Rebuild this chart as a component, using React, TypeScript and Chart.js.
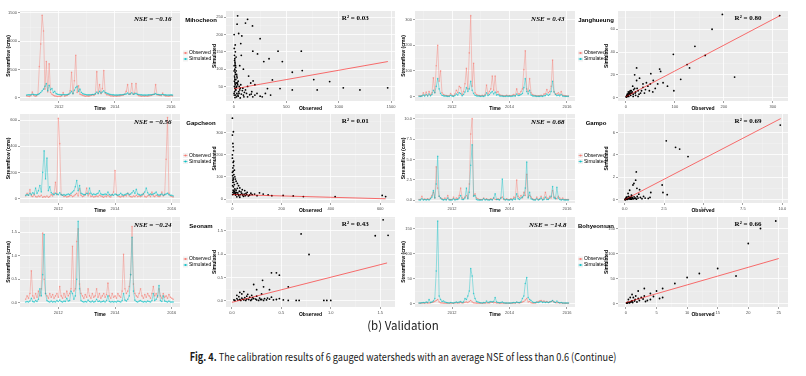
import React, { useEffect, useRef } from 'react';
import { Chart, registerables } from 'chart.js';

Chart.register(...registerables);

const OBS_RGB = '248,118,109';
const SIM_RGB = '0,191,196';
const SANS = '"Liberation Sans", Arial, sans-serif';
const SERIF = '"Liberation Serif", "DejaVu Serif", serif';

// ---------- shared time axis (decimal years) ----------
const sampleYears = [
  2010.85, 2010.9, 2010.95, 2011, 2011.05, 2011.1, 2011.15, 2011.2, 2011.25, 2011.3,
  2011.35, 2011.4, 2011.45, 2011.5, 2011.55, 2011.6, 2011.65, 2011.7, 2011.75, 2011.8,
  2011.85, 2011.9, 2011.95, 2012, 2012.05, 2012.1, 2012.15, 2012.2, 2012.25, 2012.3,
  2012.35, 2012.4, 2012.45, 2012.5, 2012.55, 2012.6, 2012.65, 2012.7, 2012.75, 2012.8,
  2012.85, 2012.9, 2012.95, 2013, 2013.05, 2013.1, 2013.15, 2013.2, 2013.25, 2013.3,
  2013.35, 2013.4, 2013.45, 2013.5, 2013.55, 2013.6, 2013.65, 2013.7, 2013.75, 2013.8,
  2013.85, 2013.9, 2013.95, 2014, 2014.05, 2014.1, 2014.15, 2014.2, 2014.25, 2014.3,
  2014.35, 2014.4, 2014.45, 2014.5, 2014.55, 2014.6, 2014.65, 2014.7, 2014.75, 2014.8,
  2014.85, 2014.9, 2014.95, 2015, 2015.05, 2015.1, 2015.15, 2015.2, 2015.25, 2015.3,
  2015.35, 2015.4, 2015.45, 2015.5, 2015.55, 2015.6, 2015.65, 2015.7, 2015.75, 2015.8,
  2015.85, 2015.9, 2015.95, 2016, 2016.05,
];
const yearTicks = [2012, 2014, 2016];
const yearMinorTicks = [2011, 2013, 2015];
const yearLabels = ['2012', '2014', '2016'];
const legendLabels = ['Observed', 'Simulated'];

// ---------- Mihocheon ----------
const mihoObs = [
  30, 25, 20, 35, 100, 40, 25, 30, 60, 550,
  950, 1460, 1180, 150, 640, 100, 600, 90, 60, 40,
  30, 25, 20, 25, 20, 30, 90, 25, 35, 40,
  60, 120, 450, 70, 300, 750, 90, 210, 60, 50,
  40, 30, 25, 30, 25, 30, 40, 50, 40, 60,
  460, 80, 230, 70, 160, 480, 80, 50, 50, 40,
  30, 30, 25, 30, 25, 30, 30, 35, 40, 45,
  60, 110, 230, 60, 70, 250, 60, 80, 250, 50,
  35, 30, 25, 30, 25, 30, 25, 30, 35, 40,
  50, 60, 230, 50, 45, 40, 35, 80, 40, 30,
  30, 25, 30, 35, 30,
];
const mihoSim = [
  45, 50, 48, 50, 60, 55, 50, 48, 55, 70,
  90, 120, 150, 200, 250, 120, 220, 140, 160, 90,
  110, 70, 60, 55, 50, 48, 55, 50, 50, 55,
  60, 80, 110, 70, 130, 180, 200, 110, 150, 90,
  70, 60, 55, 50, 48, 50, 52, 55, 55, 70,
  100, 70, 110, 80, 100, 120, 90, 80, 70, 60,
  55, 50, 48, 45, 45, 45, 48, 50, 50, 55,
  60, 65, 80, 60, 65, 85, 60, 65, 75, 60,
  55, 50, 48, 45, 45, 45, 45, 48, 50, 50,
  55, 60, 70, 55, 55, 50, 50, 55, 50, 48,
  45, 45, 45, 48, 45,
];
const mihoFlowTicks = [0, 500, 1000, 1500];
const mihoFlowMinor = [250, 750, 1250];
const mihoFlowLabels = ['0', '500', '1000', '1500'];
const mihoScatter = [
  [35, 254], [130, 244], [30, 230], [110, 233], [177, 225], [45, 203], [75, 196], [250, 188],
  [65, 174], [180, 152], [421, 152], [643, 152], [225, 144], [335, 130], [462, 122], [285, 122],
  [557, 91], [652, 96], [762, 70], [914, 64], [1044, 46], [1203, 40], [1468, 46], [557, 40],
  [795, 40], [440, 44], [367, 69], [183, 66], [320, 44], [165, 28],
  [5, 140], [10, 120], [15, 110], [8, 100], [20, 95], [12, 90], [25, 85], [5, 80], [30, 75],
  [18, 70], [40, 65], [10, 60], [35, 55], [50, 50], [22, 48], [60, 45], [15, 40], [80, 38],
  [45, 35], [100, 33], [28, 30], [120, 30], [70, 28], [150, 26], [90, 25], [200, 25], [40, 22],
  [130, 20], [10, 18], [60, 17], [250, 22], [300, 30], [8, 130], [3, 160], [12, 170], [2, 200],
  [55, 110], [70, 140], [90, 100], [140, 80], [160, 60], [200, 55],
  [3, 25], [6, 35], [9, 45], [12, 55], [4, 65], [7, 75], [14, 85], [2, 95], [16, 105], [11, 115],
  [6, 125], [20, 135], [1, 30], [18, 40], [26, 50], [33, 60], [24, 20], [38, 25], [48, 30],
  [55, 40], [65, 55], [85, 45], [95, 20], [110, 40], [130, 50], [170, 35], [180, 20], [220, 30],
  [270, 20], [350, 25], [4, 50], [9, 70], [2, 110], [13, 150], [22, 60], [28, 80], [17, 25],
];
const mihoFit = [[0, 43], [1470, 122]];
const mihoObsTicks = [0, 500, 1000, 1500];
const mihoObsMinor = [250, 750, 1250];
const mihoObsLabels = ['0', '500', '1000', '1500'];
const mihoSimTicks = [50, 100, 150, 200, 250];
const mihoSimMinor = [25, 75, 125, 175, 225];
const mihoSimLabels = ['50', '100', '150', '200', '250'];

// ---------- Janghueung ----------
const jangObs = [
  3, 2, 3, 15, 5, 18, 4, 20, 6, 15,
  73, 15, 120, 200, 60, 100, 15, 8, 5, 4,
  3, 3, 12, 5, 3, 10, 25, 15, 40, 35,
  8, 20, 50, 110, 30, 170, 315, 40, 130, 15,
  8, 5, 4, 3, 5, 3, 8, 45, 10, 20,
  30, 80, 25, 80, 15, 20, 8, 5, 4, 3,
  3, 5, 3, 4, 3, 5, 8, 4, 30, 10,
  10, 20, 30, 105, 178, 30, 20, 70, 15, 8,
  5, 4, 3, 3, 3, 5, 3, 10, 10, 28,
  15, 20, 40, 142, 20, 10, 10, 15, 8, 20,
  5, 4, 3, 2, 2,
];
const jangSim = [
  1, 1, 2, 6, 2, 8, 2, 10, 3, 8,
  25, 15, 40, 70, 30, 12, 5, 3, 2, 2,
  1, 1, 5, 2, 1, 4, 10, 6, 15, 12,
  3, 8, 18, 35, 20, 30, 60, 25, 12, 5,
  3, 2, 2, 1, 2, 1, 3, 15, 4, 8,
  15, 20, 10, 18, 6, 8, 3, 2, 2, 1,
  1, 2, 1, 2, 1, 2, 3, 2, 10, 4,
  5, 8, 12, 35, 70, 20, 10, 25, 6, 3,
  2, 2, 1, 1, 1, 2, 1, 3, 4, 10,
  5, 8, 20, 60, 18, 8, 4, 6, 3, 8,
  2, 1, 1, 1, 1,
];
const jangFlowTicks = [0, 100, 200, 300];
const jangFlowMinor = [50, 150, 250];
const jangFlowLabels = ['0', '100', '200', '300'];
const jangScatter = [
  [197, 73], [314, 72], [176, 60], [141, 45], [97, 38], [162, 37], [222, 18], [125, 29],
  [130, 26], [112, 16], [98, 6], [69, 25], [71, 23], [51, 21], [22, 26], [56, 15], [76, 13],
  [35, 12], [28, 17], [18, 20], [22, 15],
  [2, 1], [4, 2], [6, 1], [8, 3], [10, 2], [12, 4], [15, 3], [5, 5], [3, 3], [20, 5], [25, 6],
  [18, 8], [30, 4], [40, 7], [45, 10], [60, 8], [14, 10], [9, 6], [1, 0.5], [7, 4], [50, 12],
  [85, 10], [35, 9],
  [1, 1], [2, 2], [3, 1], [4, 3], [5, 2], [6, 4], [7, 3], [8, 5], [10, 4], [11, 6], [13, 5],
  [16, 7], [19, 4], [23, 8], [27, 3], [32, 6], [38, 4], [42, 13], [48, 6], [55, 5], [65, 12],
  [15, 1], [20, 2], [25, 1],
];
const jangFit = [[0, 0.7], [315, 72]];
const jangObsTicks = [0, 100, 200, 300];
const jangObsMinor = [50, 150, 250];
const jangObsLabels = ['0', '100', '200', '300'];
const jangSimTicks = [0, 20, 40, 60];
const jangSimMinor = [10, 30, 50, 70];
const jangSimLabels = ['0', '20', '40', '60'];

// ---------- Gapcheon ----------
const gapObs = [
  20, 40, 25, 68, 20, 15, 30, 15, 12, 20,
  15, 25, 10, 15, 12, 20, 10, 15, 30, 20,
  40, 125, 30, 615, 420, 30, 25, 15, 20, 12,
  15, 20, 25, 15, 20, 30, 40, 20, 75, 25,
  15, 20, 30, 80, 20, 40, 15, 20, 12, 15,
  20, 15, 25, 20, 15, 10, 20, 15, 25, 15,
  12, 30, 50, 215, 30, 20, 15, 12, 20, 15,
  25, 20, 40, 20, 15, 12, 20, 15, 25, 15,
  20, 15, 20, 40, 15, 12, 20, 25, 15, 50,
  20, 15, 25, 20, 15, 20, 50, 20, 30, 300,
  620, 40, 20, 15, 12,
];
const gapSim = [
  25, 30, 25, 40, 30, 45, 35, 80, 40, 60,
  100, 50, 200, 365, 150, 310, 60, 90, 45, 35,
  30, 40, 35, 30, 45, 30, 25, 30, 25, 30,
  35, 30, 40, 50, 60, 90, 138, 60, 100, 40,
  35, 30, 30, 40, 35, 80, 40, 30, 35, 30,
  35, 40, 60, 35, 30, 30, 35, 30, 50, 30,
  25, 30, 25, 35, 30, 25, 30, 40, 30, 25,
  30, 35, 40, 30, 35, 45, 60, 40, 70, 35,
  30, 25, 30, 35, 50, 80, 45, 30, 35, 30,
  35, 40, 50, 30, 25, 30, 35, 25, 30, 35,
  40, 30, 25, 25, 20,
];
const gapFlowTicks = [0, 200, 400, 600];
const gapFlowMinor = [100, 300, 500];
const gapFlowLabels = ['0', '200', '400', '600'];
const gapScatter = [
  [0, 364], [4, 303], [0, 288], [4, 218], [0, 199], [0, 184], [3, 165], [5, 150], [2, 140],
  [8, 130], [0, 120], [6, 110], [10, 100], [3, 95], [12, 90], [2, 85], [15, 80], [5, 75],
  [20, 70], [8, 65], [25, 60], [4, 55], [30, 50], [20, 48], [10, 45], [40, 42], [15, 40],
  [50, 38], [6, 35], [35, 32], [60, 30], [12, 28], [55, 25], [90, 22], [125, 22], [145, 19],
  [206, 16], [247, 14], [288, 11], [417, 11], [608, 16], [622, 11], [25, 20], [70, 18],
  [100, 15], [45, 12], [18, 10], [30, 8], [80, 20], [160, 15], [110, 28], [75, 26],
  [1, 20], [2, 30], [3, 40], [5, 22], [7, 28], [9, 35], [11, 25], [13, 18], [16, 30], [19, 22],
  [22, 28], [26, 15], [28, 35], [33, 20], [38, 25], [42, 18], [48, 22], [52, 15], [58, 20],
  [65, 14], [1, 60], [2, 75], [4, 90], [1, 105], [3, 125], [5, 170], [2, 250], [3, 235],
];
const gapFit = [[0, 20], [622, 1]];
const gapObsTicks = [0, 200, 400, 600];
const gapObsMinor = [100, 300, 500];
const gapObsLabels = ['0', '200', '400', '600'];
const gapSimTicks = [0, 100, 200, 300];
const gapSimMinor = [50, 150, 250, 350];
const gapSimLabels = ['0', '100', '200', '300'];

// ---------- Gampo ----------
const gampObs = [
  0.1, 0.1, 0.5, 0.1, 0.15, 0.1, 0.2, 0.1, 0.3, 0.6,
  1.0, 0.3, 4.1, 1.5, 0.5, 0.3, 0.2, 0.1, 0.3, 0.1,
  0.6, 0.1, 0.1, 0.1, 0.4, 0.1, 0.3, 0.2, 0.6, 1.5,
  0.3, 0.2, 0.4, 0.6, 0.3, 2.0, 8.1, 10.0, 0.6, 0.8,
  0.3, 0.2, 0.1, 0.1, 0.1, 0.3, 0.1, 0.2, 0.1, 0.1,
  0.2, 0.1, 0.3, 0.1, 0.1, 0.2, 0.1, 0.3, 0.4, 0.1,
  0.1, 0.2, 0.1, 0.1, 0.2, 0.1, 0.4, 0.3, 2.5, 0.5,
  0.3, 0.6, 0.3, 1.0, 0.6, 3.2, 0.4, 0.6, 0.4, 0.2,
  0.1, 0.1, 0.4, 0.1, 0.2, 0.5, 0.1, 0.3, 1.0, 0.3,
  0.2, 0.5, 0.3, 1.2, 0.4, 0.3, 0.2, 0.5, 0.3, 0.1,
  0.3, 0.1, 0.1, 0.1, 0.1,
];
const gampSim = [
  0.05, 0.05, 0.2, 0.05, 0.1, 0.05, 0.1, 0.05, 0.2, 0.4,
  1.2, 0.3, 2.0, 5.4, 0.5, 0.3, 0.1, 0.05, 0.1, 0.05,
  0.3, 0.05, 0.05, 0.05, 0.2, 0.05, 0.1, 0.1, 0.3, 0.6,
  0.1, 0.1, 0.3, 1.5, 0.2, 1.0, 4.3, 6.8, 0.5, 0.6,
  0.1, 0.05, 0.05, 0.05, 0.05, 0.2, 0.05, 0.1, 0.05, 0.05,
  0.1, 0.05, 0.3, 0.8, 0.1, 0.1, 0.05, 0.3, 2.6, 0.2,
  0.05, 0.1, 0.05, 0.05, 0.1, 0.05, 0.2, 0.1, 0.8, 0.2,
  0.1, 0.3, 0.4, 0.6, 1.5, 4.7, 0.3, 1.0, 0.2, 0.1,
  0.05, 0.05, 0.2, 0.05, 0.1, 0.3, 0.05, 0.1, 0.4, 0.1,
  0.1, 0.3, 0.5, 1.7, 0.3, 0.2, 1.6, 0.3, 0.1, 0.05,
  0.1, 0.05, 0.05, 0.05, 0.05,
];
const gampFlowTicks = [0, 2.5, 5, 7.5, 10];
const gampFlowMinor = [1.25, 3.75, 6.25, 8.75];
const gampFlowLabels = ['0.0', '2.5', '5.0', '7.5', '10.0'];
const gampScatter = [
  [9.87, 6.67], [2.64, 5.26], [3.23, 4.68], [3.49, 4.53], [4.02, 3.86], [0.74, 2.49],
  [0.59, 1.46], [0.53, 1.32], [0.7, 1.75], [0.78, 1.02], [2.38, 1.32], [2.43, 0.65],
  [2.7, 0.45], [1.66, 0.65], [1.61, 0.21], [0.95, 0.9], [0.32, 0.85], [0.22, 0.56],
  [0.43, 0.42], [0.05, 0.02], [0.1, 0.05], [0.15, 0.1], [0.2, 0.08], [0.3, 0.15], [0.4, 0.2],
  [0.5, 0.1], [0.6, 0.25], [0.25, 0.3], [0.35, 0.05], [0.7, 0.15], [0.8, 0.3], [0.1, 0.2],
  [0.45, 0.35], [1.0, 0.2], [1.2, 0.3], [0.9, 0.5], [0.05, 0.1], [0.15, 0.25],
  [0.02, 0.01], [0.08, 0.03], [0.12, 0.06], [0.18, 0.04], [0.22, 0.12], [0.28, 0.08],
  [0.33, 0.2], [0.38, 0.1], [0.42, 0.05], [0.48, 0.18], [0.55, 0.08], [0.65, 0.12],
  [0.75, 0.05], [0.85, 0.15], [1.1, 0.1], [1.3, 0.15], [1.5, 0.12],
];
const gampFit = [[0, 0], [9.9, 7.25]];
const gampObsTicks = [0, 2.5, 5, 7.5, 10];
const gampObsMinor = [1.25, 3.75, 6.25, 8.75];
const gampObsLabels = ['0.0', '2.5', '5.0', '7.5', '10.0'];
const gampSimTicks = [0, 2, 4, 6];
const gampSimMinor = [1, 3, 5, 7];
const gampSimLabels = ['0', '2', '4', '6'];

// ---------- Seonam ----------
const seoObs = [
  0.08, 0.15, 0.1, 0.2, 0.68, 0.15, 0.1, 0.2, 0.12, 0.25,
  0.15, 0.3, 1.48, 0.5, 0.2, 0.15, 0.1, 0.2, 0.12, 0.18,
  0.1, 0.15, 0.2, 0.12, 0.35, 0.15, 0.1, 0.2, 0.12, 0.25,
  0.15, 0.2, 0.3, 1.2, 0.25, 0.3, 1.3, 1.57, 0.4, 0.2,
  0.15, 0.1, 0.18, 0.12, 0.3, 0.15, 0.1, 0.2, 0.12, 0.15,
  0.3, 0.12, 0.2, 0.1, 0.15, 0.2, 0.12, 0.18, 0.42, 0.15,
  0.1, 0.2, 0.12, 0.15, 0.1, 0.2, 0.15, 0.12, 0.25, 1.03,
  0.3, 0.2, 0.25, 0.35, 0.6, 1.62, 0.4, 0.2, 0.15, 0.12,
  0.2, 0.3, 0.15, 0.1, 0.18, 0.12, 0.2, 0.15, 0.1, 0.2,
  0.35, 0.15, 0.2, 0.12, 0.3, 0.15, 0.1, 0.2, 0.12, 0.15,
  0.1, 0.18, 0.12, 0.1, 0.08,
];
const seoSim = [
  0.02, 0.03, 0.02, 0.04, 0.1, 0.03, 0.02, 0.05, 0.03, 0.08,
  0.3, 0.15, 0.6, 1.45, 0.2, 0.05, 0.03, 0.02, 0.04, 0.02,
  0.03, 0.02, 0.05, 0.03, 0.06, 0.03, 0.02, 0.04, 0.03, 0.1,
  0.04, 0.05, 0.25, 0.2, 0.08, 0.15, 0.5, 1.73, 0.3, 0.05,
  0.03, 0.02, 0.03, 0.02, 0.06, 0.03, 0.02, 0.04, 0.02, 0.03,
  0.08, 0.03, 0.04, 0.02, 0.03, 0.04, 0.02, 0.05, 0.15, 0.03,
  0.02, 0.03, 0.02, 0.03, 0.02, 0.04, 0.03, 0.02, 0.05, 0.2,
  0.06, 0.04, 0.08, 0.15, 0.6, 1.39, 0.25, 0.06, 0.03, 0.02,
  0.04, 0.05, 0.03, 0.02, 0.03, 0.02, 0.04, 0.03, 0.02, 0.05,
  0.2, 0.05, 0.08, 0.15, 0.37, 0.05, 0.03, 0.15, 0.04, 0.03,
  0.02, 0.04, 0.02, 0.02, 0.02,
];
const seoFlowTicks = [0, 0.5, 1, 1.5];
const seoFlowMinor = [0.25, 0.75, 1.25, 1.75];
const seoFlowLabels = ['0.0', '0.5', '1.0', '1.5'];
const seoScatter = [
  [1.53, 1.73], [1.45, 1.39], [1.58, 1.4], [0.7, 1.43], [0.78, 0.99], [0.4, 0.6], [0.45, 0.6],
  [0.48, 0.55], [0.31, 0.44], [0.57, 0.3], [0.38, 0.24], [0.32, 0.3], [0.22, 0.35], [0.25, 0.24],
  [0.57, 0.01], [0.65, 0.01], [0.68, 0.01], [0.93, 0.01], [0.96, 0.01], [1.0, 0.01],
  [0.02, 0.02], [0.05, 0.05], [0.08, 0.03], [0.1, 0.06], [0.12, 0.02], [0.15, 0.04], [0.18, 0.08],
  [0.2, 0.03], [0.22, 0.05], [0.25, 0.02], [0.28, 0.06], [0.3, 0.03], [0.33, 0.05], [0.35, 0.02],
  [0.38, 0.04], [0.4, 0.08], [0.05, 0.12], [0.1, 0.15], [0.15, 0.1], [0.2, 0.12], [0.12, 0.2],
  [0.08, 0.18], [0.45, 0.03], [0.3, 0.15], [0.25, 0.1],
  [0.03, 0.01], [0.06, 0.02], [0.09, 0.01], [0.11, 0.04], [0.14, 0.01], [0.17, 0.03],
  [0.19, 0.01], [0.21, 0.07], [0.24, 0.04], [0.27, 0.01], [0.29, 0.03], [0.32, 0.01],
  [0.36, 0.06], [0.42, 0.02], [0.48, 0.05], [0.52, 0.02], [0.16, 0.14], [0.07, 0.09], [0.13, 0.07],
];
const seoFit = [[0, -0.03], [1.57, 0.81]];
const seoObsTicks = [0, 0.5, 1, 1.5];
const seoObsMinor = [0.25, 0.75, 1.25];
const seoObsLabels = ['0.0', '0.5', '1.0', '1.5'];
const seoSimTicks = [0, 0.5, 1, 1.5];
const seoSimMinor = [0.25, 0.75, 1.25, 1.75];
const seoSimLabels = ['0.0', '0.5', '1.0', '1.5'];

// ---------- Bohyeonsan ----------
const bohObs = [
  0.5, 0.5, 0.8, 1, 0.6, 1.5, 0.8, 1, 1.5, 2,
  3, 4, 6, 8, 3, 1.5, 1, 0.8, 0.6, 0.5,
  0.5, 0.6, 0.8, 0.5, 0.6, 1, 1.5, 0.8, 1.2, 2,
  1, 1.5, 2.5, 3, 2, 4, 6, 3, 1.5, 1,
  0.8, 0.6, 0.5, 0.5, 0.6, 0.5, 0.8, 1.5, 1, 1.2,
  2, 3, 1.5, 2, 1, 1.2, 0.8, 0.6, 1, 0.5,
  0.5, 0.6, 0.5, 0.6, 0.5, 0.8, 1, 0.8, 2, 1.5,
  1.2, 2, 3, 4, 7, 10, 3, 4, 1.5, 1,
  0.8, 1, 2, 4, 5, 6, 4, 5, 3, 4,
  2, 3, 4, 5, 3, 2, 1.5, 2, 1, 1.5,
  0.8, 0.6, 0.5, 0.5, 0.5,
];
const bohSim = [
  1, 1, 1.5, 2, 1.5, 3, 2, 8, 2, 3,
  5, 10, 65, 165, 15, 8, 4, 5, 3, 2,
  1.5, 1, 2, 1.5, 1, 2, 3, 2, 3, 4,
  2, 3, 10, 8, 15, 25, 70, 55, 20, 10,
  4, 3, 2, 1.5, 1, 2, 1.5, 5, 2, 3,
  4, 3, 4, 12, 3, 2, 1.5, 2, 3, 1.5,
  1, 1, 1, 1, 1, 1.5, 2, 1.5, 3, 2,
  2, 3, 10, 15, 40, 52, 12, 8, 6, 3,
  2, 2, 3, 2, 3, 4, 2, 3, 2, 3,
  2, 3, 4, 6, 3, 2, 5, 2, 1.5, 2,
  1, 1, 1, 1, 1,
];
const bohFlowTicks = [0, 50, 100, 150];
const bohFlowMinor = [25, 75, 125];
const bohFlowLabels = ['0', '50', '100', '150'];
const bohScatter = [
  [24.5, 165], [22, 150], [20, 120], [15, 70], [12, 60], [10, 52], [8, 40], [6, 30], [5, 25],
  [4, 20], [3, 15], [2, 10], [1, 5], [0.5, 2], [1.5, 8], [2.5, 12], [3.5, 6], [0.2, 1],
  [0.8, 3], [1.2, 12], [2, 25], [3, 30], [18, 55], [6, 12], [4, 8],
  [0.1, 1], [0.3, 2], [0.6, 1.5], [0.9, 4], [1.1, 2], [1.4, 5], [1.8, 3], [2.2, 6], [0.4, 8],
  [0.7, 12], [1, 18], [1.6, 15], [2.8, 9], [3.2, 4], [4.5, 14], [5.5, 10],
];
const bohFit = [[0, 2], [25, 90]];
const bohObsTicks = [0, 5, 10, 15, 20, 25];
const bohObsMinor = [2.5, 7.5, 12.5, 17.5, 22.5];
const bohObsLabels = ['0', '5', '10', '15', '20', '25'];
const bohSimTicks = [0, 50, 100, 150];
const bohSimMinor = [25, 75, 125];
const bohSimLabels = ['0', '50', '100', '150'];

const stationNames = ['Mihocheon', 'Janghueung', 'Gapcheon', 'Gampo', 'Seonam', 'Bohyeonsan'];
const nseLabels = ['NSE = \u22120.16', 'NSE = 0.43', 'NSE = \u22120.56', 'NSE = 0.68', 'NSE = \u22120.24', 'NSE = \u221214.8'];
const r2Labels = ['R\u00B2 = 0.03', 'R\u00B2 = 0.80', 'R\u00B2 = 0.01', 'R\u00B2 = 0.69', 'R\u00B2 = 0.43', 'R\u00B2 = 0.66'];

// ---------- layout (pixel areas of the grey panels) ----------
const COLS = {
  leftTs: { l: 20, r: 180 },
  leftSc: { l: 226, r: 395 },
  rightTs: { l: 415, r: 575 },
  rightSc: { l: 618, r: 788 },
};
const ROWS = [{ t: 11, b: 101 }, { t: 114, b: 203 }, { t: 217, b: 307 }];

function ax(min, max, ticks, minor, labels, title) {
  return { min, max, ticks, minor, labels, title };
}

const panels = [
  {
    station: 0, col: 'left', row: 0, obs: mihoObs, sim: mihoSim,
    tsX: ax(2010.61, 2016.32, yearTicks, yearMinorTicks, yearLabels, 'Time'),
    tsY: ax(-60, 1535, mihoFlowTicks, mihoFlowMinor, mihoFlowLabels, 'Streamflow (cms)'),
    pts: mihoScatter, fit: mihoFit,
    scX: ax(-76, 1538, mihoObsTicks, mihoObsMinor, mihoObsLabels, 'Observed'),
    scY: ax(8, 268, mihoSimTicks, mihoSimMinor, mihoSimLabels, 'Simulated'),
  },
  {
    station: 1, col: 'right', row: 0, obs: jangObs, sim: jangSim,
    tsX: ax(2010.71, 2016.28, yearTicks, yearMinorTicks, yearLabels, 'Time'),
    tsY: ax(-17, 333, jangFlowTicks, jangFlowMinor, jangFlowLabels, 'Streamflow (cms)'),
    pts: jangScatter, fit: jangFit,
    scX: ax(-16, 331, jangObsTicks, jangObsMinor, jangObsLabels, 'Observed'),
    scY: ax(-3, 76, jangSimTicks, jangSimMinor, jangSimLabels, 'Simulated'),
  },
  {
    station: 2, col: 'left', row: 1, obs: gapObs, sim: gapSim,
    tsX: ax(2010.65, 2016.29, yearTicks, yearMinorTicks, yearLabels, 'Time'),
    tsY: ax(-34, 647, gapFlowTicks, gapFlowMinor, gapFlowLabels, 'Streamflow (cms)'),
    pts: gapScatter, fit: gapFit,
    scX: ax(-26, 660, gapObsTicks, gapObsMinor, gapObsLabels, 'Observed'),
    scY: ax(-18, 383, gapSimTicks, gapSimMinor, gapSimLabels, 'Simulated'),
  },
  {
    station: 3, col: 'right', row: 1, obs: gampObs, sim: gampSim,
    tsX: ax(2010.71, 2016.28, yearTicks, yearMinorTicks, yearLabels, 'Time'),
    tsY: ax(-0.32, 10.56, gampFlowTicks, gampFlowMinor, gampFlowLabels, 'Streamflow (cms)'),
    pts: gampScatter, fit: gampFit,
    scX: ax(-0.42, 10.36, gampObsTicks, gampObsMinor, gampObsLabels, 'Observed'),
    scY: ax(-0.29, 7.66, gampSimTicks, gampSimMinor, gampSimLabels, 'Simulated'),
  },
  {
    station: 4, col: 'left', row: 2, obs: seoObs, sim: seoSim,
    tsX: ax(2010.65, 2016.29, yearTicks, yearMinorTicks, yearLabels, 'Time'),
    tsY: ax(-0.085, 1.82, seoFlowTicks, seoFlowMinor, seoFlowLabels, 'Streamflow (cms)'),
    pts: seoScatter, fit: seoFit,
    scX: ax(-0.06, 1.65, seoObsTicks, seoObsMinor, seoObsLabels, 'Observed'),
    scY: ax(-0.13, 1.79, seoSimTicks, seoSimMinor, seoSimLabels, 'Simulated'),
  },
  {
    station: 5, col: 'right', row: 2, obs: bohObs, sim: bohSim,
    tsX: ax(2010.71, 2016.28, yearTicks, yearMinorTicks, yearLabels, 'Time'),
    tsY: ax(-7, 173, bohFlowTicks, bohFlowMinor, bohFlowLabels, 'Streamflow (cms)'),
    pts: bohScatter, fit: bohFit,
    scX: ax(-1.3, 26.5, bohObsTicks, bohObsMinor, bohObsLabels, 'Observed'),
    scY: ax(-7, 173, bohSimTicks, bohSimMinor, bohSimLabels, 'Simulated'),
  },
];

// ---------- chart helpers ----------
function mainScale(spec, dir, size) {
  return {
    type: 'linear',
    axis: dir,
    position: dir === 'x' ? 'bottom' : 'left',
    min: spec.min,
    max: spec.max,
    afterBuildTicks: (s) => { s.ticks = spec.ticks.map((v) => ({ value: v })); },
    afterFit: (s) => { if (dir === 'x') s.height = size; else s.width = size; },
    ticks: {
      font: { size: 4, family: SANS },
      color: '#4D4D4D',
      padding: 1,
      maxRotation: 0,
      minRotation: 0,
      autoSkip: false,
      callback: (v, i) => spec.labels[i],
    },
    grid: { color: '#FFFFFF', lineWidth: 0.8, drawTicks: true, tickLength: 2, tickColor: '#444444', tickWidth: 0.5 },
    border: { display: false },
    title: { display: true, text: spec.title, font: { size: 5, weight: 'bold', family: SANS }, color: '#000000', padding: 0 },
  };
}

function minorScale(spec, dir) {
  return {
    type: 'linear',
    axis: dir,
    position: dir === 'x' ? 'bottom' : 'left',
    min: spec.min,
    max: spec.max,
    afterBuildTicks: (s) => { s.ticks = spec.minor.map((v) => ({ value: v })); },
    afterFit: (s) => { if (dir === 'x') s.height = 0; else s.width = 0; },
    ticks: { display: false },
    grid: { color: 'rgba(255,255,255,0.6)', lineWidth: 0.4, drawTicks: false },
    border: { display: false },
    title: { display: false },
  };
}

const panelBg = {
  id: 'panelBg',
  beforeDraw(chart) {
    const { ctx, chartArea: a } = chart;
    ctx.save();
    ctx.fillStyle = '#EBEBEB';
    ctx.fillRect(a.left, a.top, a.right - a.left, a.bottom - a.top);
    ctx.restore();
  },
};

function tsOverlay(p) {
  return {
    id: 'tsOverlay',
    afterDraw(chart) {
      const { ctx, chartArea: a } = chart;
      const w = a.right - a.left;
      ctx.save();
      ctx.textBaseline = 'middle';
      ctx.fillStyle = '#000000';
      ctx.font = `italic bold 7px ${SERIF}`;
      ctx.textAlign = 'center';
      ctx.fillText(nseLabels[p.station], a.left + w * 0.83, a.top + 8);
      const cy = (a.top + a.bottom) / 2;
      const colors = [OBS_RGB, SIM_RGB];
      legendLabels.forEach((lab, k) => {
        const y = cy - 3 + k * 6;
        const kx = a.right + 3;
        ctx.fillStyle = '#F2F2F2';
        ctx.fillRect(kx, y - 2.5, 5, 5);
        ctx.strokeStyle = `rgba(${colors[k]},0.8)`;
        ctx.lineWidth = 0.7;
        ctx.beginPath();
        ctx.moveTo(kx + 0.5, y);
        ctx.lineTo(kx + 4.5, y);
        ctx.stroke();
        ctx.fillStyle = `rgba(${colors[k]},0.9)`;
        ctx.beginPath();
        ctx.arc(kx + 2.5, y, 1, 0, Math.PI * 2);
        ctx.fill();
        ctx.fillStyle = '#000000';
        ctx.font = `5px ${SANS}`;
        ctx.textAlign = 'left';
        ctx.fillText(lab, kx + 6, y);
      });
      ctx.font = `bold 6px ${SANS}`;
      ctx.textAlign = 'center';
      ctx.fillText(stationNames[p.station], a.right + 21, a.top + 9);
      ctx.restore();
    },
  };
}

function scOverlay(p) {
  return {
    id: 'scOverlay',
    afterDraw(chart) {
      const { ctx, chartArea: a } = chart;
      ctx.save();
      ctx.textBaseline = 'middle';
      ctx.textAlign = 'center';
      ctx.fillStyle = '#000000';
      ctx.font = `bold 7px ${SERIF}`;
      ctx.fillText(r2Labels[p.station], a.left + (a.right - a.left) * 0.765, a.top + 7);
      ctx.restore();
    },
  };
}

const TS_YW = 14, TS_XH = 11, TS_PADT = 10, TS_PADR = 55;
const SC_YW = 14, SC_XH = 11, SC_PADT = 10, SC_PADR = 8;

function tsGeometry(p) {
  const c = p.col === 'left' ? COLS.leftTs : COLS.rightTs;
  const r = ROWS[p.row];
  return {
    left: c.l - TS_YW,
    top: r.t - TS_PADT,
    width: TS_YW + (c.r - c.l) + TS_PADR,
    height: TS_PADT + (r.b - r.t) + TS_XH,
  };
}
function scGeometry(p) {
  const c = p.col === 'left' ? COLS.leftSc : COLS.rightSc;
  const r = ROWS[p.row];
  return {
    left: c.l - SC_YW,
    top: r.t - SC_PADT,
    width: SC_YW + (c.r - c.l) + SC_PADR,
    height: SC_PADT + (r.b - r.t) + SC_XH,
  };
}

function buildTs(p) {
  const series = (vals) => sampleYears.map((t, i) => ({ x: t, y: vals[i] }));
  return {
    type: 'line',
    data: {
      datasets: [
        {
          label: legendLabels[0],
          data: series(p.obs),
          borderColor: `rgba(${OBS_RGB},0.65)`,
          backgroundColor: `rgba(${OBS_RGB},0.6)`,
          borderWidth: 0.6,
          pointRadius: 0.8,
          pointBorderWidth: 0,
          tension: 0,
          order: 2,
        },
        {
          label: legendLabels[1],
          data: series(p.sim),
          borderColor: `rgba(${SIM_RGB},0.65)`,
          backgroundColor: `rgba(${SIM_RGB},0.6)`,
          borderWidth: 0.6,
          pointRadius: 0.8,
          pointBorderWidth: 0,
          tension: 0,
          order: 1,
        },
      ],
    },
    options: {
      responsive: false,
      animation: false,
      devicePixelRatio: 1,
      events: [],
      layout: { padding: { top: TS_PADT, right: TS_PADR, left: 0, bottom: 0 } },
      plugins: { legend: { display: false }, tooltip: { enabled: false }, title: { display: false } },
      scales: {
        x: mainScale(p.tsX, 'x', TS_XH),
        y: mainScale(p.tsY, 'y', TS_YW),
        xm: minorScale(p.tsX, 'x'),
        ym: minorScale(p.tsY, 'y'),
      },
    },
    plugins: [panelBg, tsOverlay(p)],
  };
}

function buildSc(p) {
  return {
    type: 'scatter',
    data: {
      datasets: [
        {
          type: 'line',
          label: 'Linear fit',
          data: p.fit.map(([x, y]) => ({ x, y })),
          borderColor: 'rgba(255,0,0,0.55)',
          borderWidth: 1,
          pointRadius: 0,
          order: 0,
        },
        {
          label: 'Observed vs Simulated',
          data: p.pts.map(([x, y]) => ({ x, y })),
          backgroundColor: '#000000',
          borderWidth: 0,
          pointRadius: 0.9,
          order: 1,
        },
      ],
    },
    options: {
      responsive: false,
      animation: false,
      devicePixelRatio: 1,
      events: [],
      layout: { padding: { top: SC_PADT, right: SC_PADR, left: 0, bottom: 0 } },
      plugins: { legend: { display: false }, tooltip: { enabled: false }, title: { display: false } },
      scales: {
        x: mainScale(p.scX, 'x', SC_XH),
        y: mainScale(p.scY, 'y', SC_YW),
        xm: minorScale(p.scX, 'x'),
        ym: minorScale(p.scY, 'y'),
      },
    },
    plugins: [panelBg, scOverlay(p)],
  };
}

function ChartCanvas({ geom, build }) {
  const ref = useRef(null);
  useEffect(() => {
    const chart = new Chart(ref.current, build());
    return () => chart.destroy();
  }, []);
  return (
    <canvas
      ref={ref}
      width={geom.width}
      height={geom.height}
      style={{ position: 'absolute', left: geom.left, top: geom.top, width: geom.width, height: geom.height }}
    />
  );
}

export default function App() {
  return (
    <div style={{ position: 'absolute', left: 0, top: 0, width: 806, height: 376, background: '#FFFFFF', overflow: 'hidden' }}>
      {panels.map((p) => (
        <React.Fragment key={p.station}>
          <ChartCanvas geom={tsGeometry(p)} build={() => buildTs(p)} />
          <ChartCanvas geom={scGeometry(p)} build={() => buildSc(p)} />
        </React.Fragment>
      ))}
      <div style={{ position: 'absolute', left: 0, width: 806, top: 317, textAlign: 'center', fontFamily: '"Noto Sans CJK KR", "Noto Sans", sans-serif', fontSize: 11.5, color: '#222' }}>
        (b) Validation
      </div>
      <div style={{ position: 'absolute', left: 0, width: 806, top: 347, textAlign: 'center', whiteSpace: 'nowrap' }}>
        <span style={{ display: 'inline-block', transform: 'scaleX(0.83)', transformOrigin: 'center', fontFamily: '"Noto Sans CJK KR", "Noto Sans", sans-serif', fontSize: 11, color: '#1A1A1A' }}>
          <b>Fig. 4.</b> The calibration results of 6 gauged watersheds with an average NSE of less than 0.6 (Continue)
        </span>
      </div>
    </div>
  );
}
